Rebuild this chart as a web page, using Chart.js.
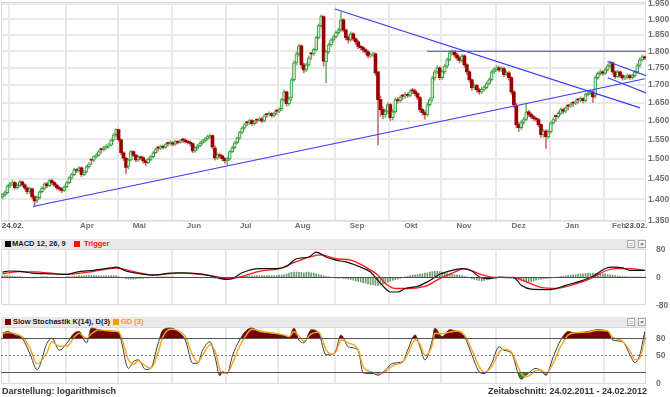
<!DOCTYPE html>
<html>
<head>
<meta charset="utf-8">
<title>Gold 24.02.2011 - 24.02.2012</title>
<script src="https://cdn.jsdelivr.net/npm/chart.js@4.4.1/dist/chart.umd.min.js"></script>
<style>
  html, body { margin: 0; padding: 0; background: #fff; }
  body { position: relative; width: 670px; height: 397px; overflow: hidden; font-family: "Liberation Sans", Arial, sans-serif; }
  canvas { position: absolute; left: 0; }
  #main { top: 0; }
  #macd { top: 240px; }
  #stoch { top: 318px; }
  .bar { position: absolute; left: 1px; width: 645px; height: 10px; background: #e9e9e9; font-size: 7.5px; line-height: 10px; font-weight: bold; color: #1a1a1a; white-space: nowrap; z-index: 2; }
  .bar span { position: absolute; top: 0; }
  .bar i { position: absolute; top: 2px; width: 6px; height: 6px; }
  .btn { position: absolute; top: 1px; width: 6px; height: 6px; border: 1px solid #a8a8a8; background: #fafafa; font-size: 6px; line-height: 6px; text-align: center; color: #444; }
  .foot { position: absolute; top: 386px; font-size: 9px; line-height: 11px; font-weight: bold; color: #333; white-space: nowrap; }
</style>
</head>
<body>
<canvas id="main" width="670" height="232"></canvas>
<canvas id="macd" width="670" height="72"></canvas>
<canvas id="stoch" width="670" height="72"></canvas>

<div class="bar" style="top:239px">
  <i style="left:4px;background:#000"></i><span style="left:11px">MACD 12, 26, 9</span>
  <i style="left:73px;background:#ff1010"></i><span style="left:83px;color:#ff1010">Trigger</span>
  <div class="btn" style="left:626px">::</div><div class="btn" style="left:637px">&times;</div>
</div>
<div class="bar" style="top:317px">
  <i style="left:4px;background:#800000"></i><span style="left:12px">Slow Stochastik K(14), D(3)</span>
  <i style="left:112px;background:#f5a000"></i><span style="left:120px;color:#f5a000">GD (3)</span>
  <div class="btn" style="left:626px">::</div><div class="btn" style="left:637px">&times;</div>
</div>
<div class="foot" style="left:2px">Darstellung: logarithmisch</div>
<div class="foot" style="right:23px">Zeitabschnitt: 24.02.2011 - 24.02.2012</div>

<script>
// daily candles, one entry per trading day (24.02.2011 .. 23.02.2012)
var opens = [
  1405,1411,1416,1432,1437,1440,1428,1433,1442,1435,
  1427,1418,1425,1406,1398,1404,1418,1426,1437,1433,
  1445,1440,1434,1428,1425,1421,1430,1440,1452,1460,
  1472,1470,1477,1460,1466,1480,1498,1496,1505,1509,
  1525,1523,1528,1532,1535,1548,1562,1576,1549,1515,
  1501,1481,1497,1518,1509,1497,1504,1502,1494,1490,
  1498,1505,1515,1529,1527,1531,1529,1541,1539,1541,
  1537,1544,1542,1550,1548,1544,1542,1539,1520,1527,
  1533,1540,1546,1551,1557,1560,1527,1502,1510,1507,
  1500,1495,1499,1518,1528,1541,1553,1568,1580,1596,
  1594,1600,1592,1603,1601,1605,1599,1618,1616,1619,
  1614,1628,1626,1633,1658,1680,1647,1664,1715,1765,
  1792,1817,1759,1744,1759,1794,1792,1805,1842,1880,
  1909,1768,1798,1820,1835,1845,1858,1867,1899,1866,
  1842,1835,1854,1838,1829,1815,1811,1804,1798,1786,
  1789,1792,1738,1658,1630,1616,1625,1644,1608,1624,
  1658,1655,1670,1668,1672,1670,1685,1683,1675,1664,
  1630,1622,1616,1644,1662,1720,1738,1750,1721,1738,
  1755,1774,1795,1798,1789,1780,1772,1786,1759,1738,
  1715,1692,1698,1686,1680,1688,1692,1704,1715,1738,
  1745,1750,1744,1748,1730,1735,1721,1680,1640,1589,
  1581,1595,1603,1624,1617,1611,1606,1603,1589,1562,
  1572,1557,1570,1594,1613,1611,1620,1630,1626,1642,
  1640,1650,1648,1659,1657,1661,1655,1672,1676,1680,
  1670,1721,1733,1738,1734,1744,1756,1765,1738,1724,
  1738,1727,1720,1721,1727,1721,1727,1738,1757,1774,
  1783
];
var highs = [
  1414,1420,1435,1441,1445,1443,1437,1446,1444,1438,
  1430,1429,1427,1409,1408,1421,1430,1440,1441,1449,
  1448,1443,1437,1431,1428,1433,1443,1455,1463,1476,
  1475,1480,1479,1470,1483,1490,1499,1508,1513,1521,
  1527,1532,1536,1540,1551,1566,1578,1577,1551,1518,
  1504,1500,1521,1520,1511,1508,1507,1505,1497,1502,
  1508,1518,1527,1531,1535,1535,1540,1543,1546,1544,
  1548,1547,1550,1553,1551,1548,1546,1541,1531,1537,
  1544,1550,1555,1561,1564,1562,1533,1514,1513,1510,
  1503,1503,1521,1532,1544,1556,1571,1584,1593,1598,
  1604,1603,1601,1605,1609,1608,1617,1620,1624,1622,
  1625,1630,1635,1662,1686,1682,1665,1720,1771,1798,
  1822,1820,1765,1764,1786,1797,1810,1846,1886,1915,
  1912,1803,1826,1840,1850,1863,1872,1923,1903,1870,
  1848,1860,1858,1842,1833,1820,1815,1808,1802,1795,
  1797,1795,1738,1668,1638,1632,1650,1648,1630,1663,
  1664,1669,1673,1678,1677,1686,1690,1687,1679,1667,
  1634,1627,1649,1664,1725,1744,1757,1753,1743,1760,
  1780,1801,1804,1802,1794,1785,1791,1790,1763,1742,
  1718,1704,1702,1690,1694,1698,1710,1720,1743,1751,
  1757,1755,1754,1752,1741,1739,1724,1684,1648,1595,
  1600,1609,1648,1628,1621,1615,1610,1606,1592,1577,
  1575,1575,1599,1608,1616,1625,1635,1634,1640,1645,
  1649,1653,1658,1662,1666,1664,1677,1681,1686,1684,
  1726,1738,1744,1742,1750,1761,1770,1768,1741,1743,
  1741,1731,1727,1732,1731,1732,1743,1762,1779,1788,
  1786
];
var lows = [
  1401,1407,1413,1428,1433,1424,1424,1430,1430,1423,
  1413,1414,1401,1384,1392,1401,1415,1423,1428,1430,
  1436,1430,1423,1420,1416,1418,1427,1437,1448,1457,
  1465,1466,1455,1457,1463,1476,1484,1492,1501,1506,
  1514,1519,1524,1527,1532,1545,1558,1544,1510,1495,
  1462,1474,1494,1505,1492,1493,1497,1488,1482,1487,
  1495,1502,1512,1519,1523,1525,1526,1532,1535,1532,
  1534,1538,1539,1542,1540,1537,1533,1515,1516,1523,
  1530,1537,1542,1548,1553,1525,1496,1498,1501,1494,
  1488,1485,1496,1515,1525,1538,1550,1565,1576,1585,
  1590,1587,1588,1593,1597,1594,1596,1609,1612,1609,
  1610,1617,1622,1627,1654,1640,1642,1656,1710,1758,
  1785,1748,1735,1739,1754,1775,1787,1800,1838,1874,
  1755,1706,1793,1815,1828,1840,1852,1862,1860,1835,
  1825,1830,1832,1820,1808,1804,1797,1790,1780,1781,
  1784,1728,1535,1612,1605,1608,1620,1600,1602,1620,
  1648,1650,1659,1662,1664,1666,1675,1669,1658,1624,
  1615,1604,1612,1640,1654,1714,1733,1715,1716,1733,
  1750,1770,1788,1782,1773,1765,1768,1752,1730,1708,
  1684,1686,1679,1673,1675,1683,1688,1700,1711,1733,
  1740,1738,1739,1724,1726,1714,1673,1637,1580,1570,
  1576,1590,1600,1611,1605,1600,1597,1583,1555,1556,
  1526,1552,1566,1590,1598,1606,1616,1620,1622,1630,
  1636,1639,1644,1648,1652,1649,1651,1668,1672,1650,
  1662,1716,1728,1728,1730,1740,1751,1732,1718,1720,
  1721,1714,1715,1717,1716,1717,1723,1734,1752,1770,
  1775
];
var closes = [
  1411,1416,1432,1437,1440,1428,1433,1442,1435,1427,
  1418,1425,1406,1396,1404,1418,1426,1437,1433,1445,
  1440,1434,1428,1425,1421,1430,1440,1452,1460,1472,
  1470,1477,1460,1466,1480,1487,1496,1505,1509,1518,
  1523,1528,1532,1535,1548,1562,1576,1549,1515,1501,
  1478,1497,1518,1509,1497,1504,1502,1494,1490,1498,
  1505,1515,1523,1527,1531,1529,1536,1539,1541,1537,
  1544,1542,1546,1548,1544,1542,1539,1520,1527,1533,
  1540,1546,1551,1557,1560,1530,1502,1510,1507,1500,
  1495,1499,1518,1528,1541,1553,1568,1580,1589,1594,
  1600,1592,1597,1601,1605,1599,1613,1616,1619,1614,
  1621,1626,1630,1658,1680,1647,1660,1715,1765,1792,
  1817,1759,1744,1759,1780,1792,1805,1842,1880,1909,
  1770,1798,1820,1835,1845,1858,1867,1899,1866,1842,
  1835,1854,1838,1829,1815,1811,1804,1798,1786,1789,
  1792,1735,1658,1630,1616,1625,1644,1608,1624,1658,
  1655,1664,1668,1672,1670,1680,1683,1675,1664,1630,
  1622,1616,1644,1658,1720,1738,1750,1721,1738,1755,
  1774,1795,1798,1789,1780,1772,1786,1759,1738,1715,
  1692,1698,1686,1680,1688,1692,1704,1715,1738,1745,
  1750,1744,1748,1730,1735,1721,1680,1644,1589,1581,
  1595,1603,1624,1617,1611,1606,1603,1589,1562,1572,
  1557,1570,1594,1603,1611,1620,1630,1626,1635,1640,
  1644,1648,1652,1657,1661,1655,1672,1676,1680,1666,
  1721,1733,1738,1734,1744,1756,1765,1738,1724,1738,
  1727,1720,1721,1727,1721,1727,1738,1757,1774,1783,
  1780
];

// MACD 12,26,9 and trigger, read at these trading days
var macdDays = [0,3,7,12,19,26,30,37,44,46,50,56,61,68,72,80,85,91,93,97,104,111,115,119,124,127,131,135,139,145,149,152,155,157,160,163,168,172,177,182,186,190,193,197,201,207,210,214,220,222,228,234,239,244,247,251,254,260];
var macdLine = [15,18,17,12,10,8.5,15,20,27,29,18,10,6,12,13,10,3,-6,-4,13,25,25,31,53,58,72,58,49,44,29,15,-9,-32,-42,-42,-32,-26,-13,8.5,20,25,18,1,-4,0,-1,-23,-34,-35,-35,-23,-11,3,25,29,27,20,20];
var triggerDays = [0,7,15,26,37,46,54,61,72,84,92,98,104,112,119,129,135,141,147,152,155,159,165,171,177,183,187,193,199,207,212,218,224,230,238,244,248,254,260];
var triggerLine = [10,16,15,8.5,17,26,15,7,12,5,-4,5,17,25,45,64,53,49,29,6,-18,-32,-32,-26,-4,15,25,10,0,0,-13,-29,-32,-23,-4,18,25,25,20];
// histogram, one bar per trading day
var macdHist = [
  4,5,5,4,3,3,2,2,1,
  0,-1,-1,-2,-2,-1,0,1,1,1,0,0,-1,-1,-1,0,0,
  1,2,2,3,3,4,4,4,5,5,5,5,5,4,4,4,4,4,5,5,4,
  2,0,-2,-4,-5,-5,-5,-4,-4,-3,-3,-2,-2,-1,
  0,0,1,1,1,1,1,1,1,0,0,0,0,0,0,0,0,0,-1,-1,-1,0,0,0,
  -2,-3,-4,-5,-5,-5,-4,-3,-2,-1,0,1,
  2,3,3,4,4,4,5,5,5,5,5,5,5,5,5,6,6,8,10,12,14,15,15,14,14,13,14,15,13,12,10,8,6,4,
  2,1,0,-1,-2,-3,-2,-3,-4,-5,
  -6,-8,-10,-12,-13,-15,-17,-19,-21,-22,-23,-23,-22,-20,-17,-14,-11,
  -9,-7,-5,-3,-1,1,3,5,
  6,7,8,9,10,12,13,15,16,17,17,16,15,13,12,10,9,
  8,7,6,5,3,1,-2,-4,
  -6,-8,-9,-10,-9,-7,-5,
  -3,-1,0,1,1,0,0,-1,-2,-4,-6,
  -8,-10,-12,-13,-13,-12,-10,-8,-6,
  -5,-4,-4,-3,-2,-1,0,
  1,2,3,4,5,6,7,8,9,10,10,11,12,12,12,11,11,10,10,9,
  8,7,6,5,4,3,2,2,1,1,1,1,1,1,1,1
];

// Slow Stochastik K(14), D(3)
var stochDays = [0,2,5,8,11,14,18,20,23,26,29,31,34,36,39,44,47,48,51,53,55,58,60,63,65,68,71,74,77,79,81,84,86,88,89,91,93,96,99,101,105,110,114,116,118,120,122,125,128,131,133,135,137,140,144,146,150,152,155,158,162,164,167,169,171,174,175,178,181,184,187,190,193,195,198,201,203,206,210,212,216,218,220,223,226,229,232,237,241,245,247,251,254,256,258,260];
var stochK = [89,92,86,80,54,25,71,80,59,71,89,92,72,98,95,92,92,77,27,39,42,25,27,71,95,98,92,77,36,36,59,74,48,14,21,18,48,77,95,98,90,89,84,82,98,77,72,95,89,51,51,59,86,65,59,19,18,15,24,36,39,59,86,65,42,77,98,83,95,92,83,51,21,18,36,65,59,54,8,15,27,23,15,48,77,92,89,92,95,92,77,74,51,37,51,92];
var stochD = [88,90,89,83,64,35,55,74,66,66,82,89,80,88,95,93,91,84,42,34,40,31,27,55,83,96,94,83,50,38,50,68,58,25,19,19,35,66,88,96,92,89,86,83,92,84,75,88,91,60,52,56,77,72,60,30,20,17,21,32,38,52,77,70,50,68,89,88,91,93,86,60,30,20,30,55,61,56,18,12,23,24,18,37,66,86,90,91,94,93,82,75,58,42,45,78];

// axis ticks
var monthStarts = [3, 26, 47, 69, 91, 112, 135, 157, 178, 200, 222, 244];
var tickDays = [4.2, 34.2, 55.4, 77.5, 98.5, 121.5, 143.5, 165.4, 186.8, 208.9, 230.6, 249.6, 256.5];
var tickLabels = ['24.02.', 'Apr', 'Mai', 'Jun', 'Jul', 'Aug', 'Sep', 'Okt', 'Nov', 'Dez', 'Jan', 'Feb', '23.02.'];
var priceTicks = [1350, 1400, 1450, 1500, 1550, 1600, 1650, 1700, 1750, 1800, 1850, 1900, 1950];
var macdTicks = [-80, 0, 80];
var stochTicks = [0, 50, 80];

// trend lines on the price panel, [day, price]
var trendSupport = [[12.3, 1383], [260.1, 1718]];
var trendFalling = [[134.6, 1934], [258.1, 1635]];
var resistance = [[171.9, 1800], [260.5, 1800]];
var channelTop = [[244.9, 1769], [260.5, 1727]];
var channelBottom = [[245.0, 1721], [260.5, 1677]];

var FONT = '"Liberation Sans", Arial, sans-serif';
var X_MIN = -0.6, X_MAX = 260.5;
var GRID = '#e9e9e9';
var NONE = 'rgba(0,0,0,0)';

function up(i) {
    return closes[i] >= opens[i];
}

function pts(days, vals) {
    return days.map(function(d, k) { return {x: d, y: vals[k]}; });
}

function pairs(p) {
    return p.map(function(q) { return {x: q[0], y: q[1]}; });
}

function xAxis(withLabels) {
    return {
        type: 'linear', min: X_MIN, max: X_MAX, offset: false,
        afterBuildTicks: function(axis) {
            var t = monthStarts.map(function(d) { return {value: d - 0.4, grid: true}; });
            if (withLabels) {
                tickDays.forEach(function(d, k) { t.push({value: d, text: tickLabels[k]}); });
            }
            t.sort(function(a, b) { return a.value - b.value; });
            axis.ticks = t;
        },
        afterFit: function(axis) {
            axis.height = withLabels ? 11.3 : 0;
            axis.paddingLeft = 0;
            axis.paddingRight = 0;
        },
        ticks: {
            display: withLabels, autoSkip: false, maxRotation: 0, padding: 0.5,
            font: {family: FONT, size: 8, weight: 'bold'},
            color: function(ctx) {
                return ctx.tick && ctx.tick.text && ctx.tick.text.indexOf('.') > 0 ? '#505050' : '#707070';
            },
            callback: function(v, i, ticks) { return ticks[i].text || ''; }
        },
        grid: {
            offset: false, drawTicks: false, lineWidth: 2,
            color: function(ctx) { return ctx.tick && ctx.tick.grid ? GRID : NONE; }
        },
        border: {display: false}
    };
}

function yAxis(type, min, max, ticks, fmt, grid) {
    return {
        type: type, position: 'right', min: min, max: max,
        afterBuildTicks: function(axis) {
            axis.ticks = ticks.map(function(v) { return {value: v}; });
        },
        afterFit: function(axis) {
            axis.width = 24;
            axis.paddingTop = 0;
            axis.paddingBottom = 0;
        },
        ticks: {padding: 2, color: '#6f6f6f', font: {family: FONT, size: 8.5, weight: 'bold'}, callback: fmt},
        grid: grid ? {drawTicks: false, lineWidth: 2, color: GRID} : {display: false},
        border: {display: false}
    };
}

// thin frame round each plot area
var panelFrame = {
    id: 'panelFrame',
    beforeDatasetsDraw: function(chart) {
        var a = chart.chartArea, ctx = chart.ctx;
        ctx.save();
        ctx.strokeStyle = '#dadada';
        ctx.lineWidth = 1;
        ctx.strokeRect(Math.round(a.left) + 0.5, Math.round(a.top) + 0.5,
            Math.round(a.right - a.left) - 1, Math.round(a.bottom - a.top) - 1);
        ctx.restore();
    }
};

// horizontal reference levels (0 line, 20/50/80 lines)
var levelLines = {
    id: 'levelLines',
    afterDatasetsDraw: function(chart, args, opts) {
        var a = chart.chartArea, ctx = chart.ctx, y = chart.scales.y;
        (opts.lines || []).forEach(function(l) {
            var py = Math.round(y.getPixelForValue(l.value)) + 0.5;
            ctx.save();
            ctx.strokeStyle = l.color;
            ctx.lineWidth = 1;
            ctx.setLineDash(l.dash || []);
            ctx.beginPath();
            ctx.moveTo(a.left, py);
            ctx.lineTo(a.right, py);
            ctx.stroke();
            ctx.restore();
        });
    }
};

function trend(p) {
    return {type: 'line', data: pairs(p), borderColor: '#3a3aff', borderWidth: 1.1, pointRadius: 0, fill: false, order: 0};
}

var baseOptions = function(padTop, padBottom) {
    return {
        responsive: false, animation: false, devicePixelRatio: 1, events: [],
        layout: {padding: {top: padTop, left: 1, right: 0, bottom: padBottom}},
        plugins: {legend: {display: false}, tooltip: {enabled: false}, filler: {drawTime: 'beforeDatasetsDraw'}}
    };
};

// price panel
var mainOpts = baseOptions(2, 0);
mainOpts.scales = {
    x: xAxis(true),
    y: yAxis('logarithmic', 1350, 1957, priceTicks, function(v) { return (v / 1000).toFixed(3); }, true)
};

new Chart(document.getElementById('main'), {
    type: 'line',
    data: {
        datasets: [
            {
                type: 'bar', grouped: false, order: 2, barThickness: 3, minBarLength: 1, borderSkipped: false,
                data: closes.map(function(c, i) { return {x: i, y: [opens[i], c]}; }),
                backgroundColor: function(ctx) { return up(ctx.dataIndex || 0) ? '#d2ecce' : '#990000'; },
                borderColor: function(ctx) { return up(ctx.dataIndex || 0) ? '#34973a' : '#990000'; },
                borderWidth: function(ctx) { return up(ctx.dataIndex || 0) ? 1 : 0; }
            },
            {
                type: 'bar', grouped: false, order: 3, barThickness: 1,
                data: closes.map(function(c, i) { return {x: i, y: [lows[i], highs[i]]}; }),
                backgroundColor: function(ctx) { return up(ctx.dataIndex || 0) ? '#6fbb6f' : '#cc7070'; }
            },
            trend(trendSupport),
            trend(trendFalling),
            trend(resistance),
            trend(channelTop),
            trend(channelBottom)
        ]
    },
    options: mainOpts,
    plugins: [panelFrame]
});

// MACD panel
var macdOpts = baseOptions(9.3, 6.7);
macdOpts.scales = {
    x: xAxis(false),
    y: yAxis('linear', -80, 80, macdTicks, function(v) { return String(v); }, false)
};
macdOpts.plugins.levelLines = {lines: [{value: 0, color: '#4d4d4d'}]};

new Chart(document.getElementById('macd'), {
    type: 'line',
    data: {
        datasets: [
            {
                type: 'bar', grouped: false, order: 3, barThickness: 1,
                data: macdHist.map(function(h, i) { return {x: i, y: h}; }),
                backgroundColor: '#6f9c6f'
            },
            {
                data: pts(triggerDays, triggerLine), borderColor: '#ff1a1a', borderWidth: 1.3,
                pointRadius: 0, cubicInterpolationMode: 'monotone', fill: false, order: 2
            },
            {
                data: pts(macdDays, macdLine), borderColor: '#111', borderWidth: 1.2,
                pointRadius: 0, cubicInterpolationMode: 'monotone', fill: false, order: 1
            }
        ]
    },
    options: macdOpts,
    plugins: [panelFrame, levelLines]
});

// Slow stochastic panel
var stochOpts = baseOptions(9, 6.3);
stochOpts.scales = {
    x: xAxis(false),
    y: yAxis('linear', 0, 100, stochTicks, function(v) { return String(v); }, false)
};
stochOpts.plugins.levelLines = {lines: [
    {value: 80, color: '#555'},
    {value: 20, color: '#555'},
    {value: 50, color: '#777', dash: [2, 2]}
]};

new Chart(document.getElementById('stoch'), {
    type: 'line',
    data: {
        datasets: [
            {
                data: pts(stochDays, stochK), borderWidth: 0, pointRadius: 0,
                cubicInterpolationMode: 'monotone', order: 4,
                fill: {target: {value: 20}, above: NONE, below: '#2b8a2b'}
            },
            {
                data: pts(stochDays, stochK), borderColor: '#3a3a3a', borderWidth: 1, pointRadius: 0,
                cubicInterpolationMode: 'monotone', order: 2,
                fill: {target: {value: 80}, above: '#7a0000', below: NONE}
            },
            {
                data: pts(stochDays, stochD), borderColor: '#f7a51e', borderWidth: 1.4, pointRadius: 0,
                cubicInterpolationMode: 'monotone', fill: false, order: 1
            }
        ]
    },
    options: stochOpts,
    plugins: [panelFrame, levelLines]
});
</script>
</body>
</html>
